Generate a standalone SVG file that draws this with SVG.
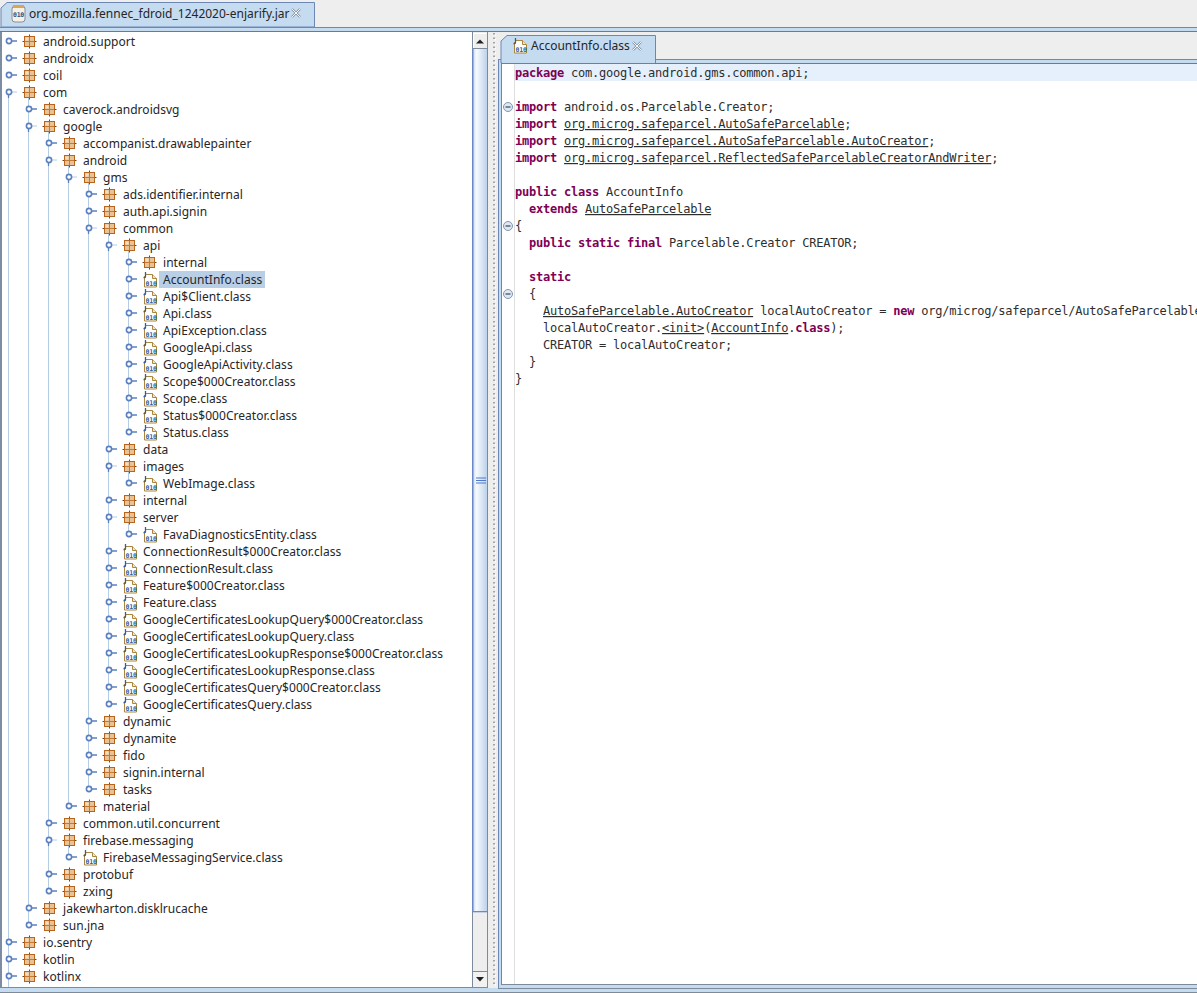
<svg xmlns="http://www.w3.org/2000/svg" width="1197" height="993" viewBox="0 0 1197 993">
<style>
text{font-family:"Noto Sans","Open Sans","Liberation Sans",sans-serif;font-size:12px;letter-spacing:.03px;fill:#262626}
.tab{font-size:12px;letter-spacing:0}
.code{font-family:"DejaVu Sans Mono","Liberation Mono",monospace;font-size:12px;letter-spacing:-.22px;fill:#2e2e2e;white-space:pre}
.k{font-weight:bold;fill:#7f0055}
.u{text-decoration:underline}
.g{stroke:#b4cde4;stroke-width:1;fill:none}
.bin{font-family:"DejaVu Sans Mono",monospace;font-size:6.500px;font-weight:bold;fill:#2f5f9f;letter-spacing:-.25px}
</style>
<defs>
<g id="pkg">
<path d="M5.500 -1.500V12.500M-1.500 5.500H12.500" stroke="#7a4114" stroke-width="1"/>
<rect x="0.500" y="0.500" width="10" height="10" fill="#e8c397" stroke="#b5651d"/>
<path d="M5.500 1V10M1 5.500H10" stroke="#c27a35" stroke-width="1"/>
<rect x="1.500" y="1.500" width="3" height="3" fill="#f3dcbf"/>
</g>
<g id="cls">
<path d="M3.500 2.500H10.500L14.500 6.500V15H2.500V4" fill="#fff" stroke="#a8863f"/>
<path d="M10.500 2.500V6.500H14.500" fill="#f1e6c8" stroke="#a8863f"/>
<path d="M3.500 0V4.500Q3.500 6 1.500 5.500" fill="none" stroke="#2f5f9f" stroke-width="1.300"/>
<text class="bin" x="3.600" y="13.500">010</text>
</g>
<g id="hc">
<path d="M10 0H17" stroke="#5b80bf" stroke-width="1.500"/>
<circle cx="9" cy="0" r="2.600" fill="#fff" stroke="#5b80bf" stroke-width="1.600"/>
</g>
<g id="he">
<path d="M9 0H17" stroke="#b4cde4"/>
<path d="M8.500 0V6" stroke="#5b80bf" stroke-width="1.300"/>
<circle cx="9" cy="0" r="2.600" fill="#fff" stroke="#5b80bf" stroke-width="1.600"/>
</g>
<g id="x">
<path d="M1 1L9 9M9 1L1 9" stroke="#8b98a8" stroke-width="2.400"/>
<path d="M1 1L9 9M9 1L1 9" stroke="#f4f6f8" stroke-width="1"/>
</g>
<g id="fold">
<circle cx="0" cy="0" r="4.500" fill="#dfe7f0" stroke="#7d97b8"/>
<path d="M-2.500 0H2.500" stroke="#36475c" stroke-width="1.200"/>
</g>
<linearGradient id="thumb" x1="0" x2="1" y1="0" y2="0">
<stop offset="0" stop-color="#c9dcf1"/><stop offset=".25" stop-color="#f7fafd"/><stop offset="1" stop-color="#bcd3ea"/>
</linearGradient>
</defs>

<g id="chrome">
<rect width="1197" height="993" fill="#eeeeee"/>
<rect x="0" y="28" width="1197" height="4" fill="#c5dbf0"/>
<rect x="0" y="27" width="1197" height="1" fill="#6d87b5"/>
<rect x="0" y="31" width="1197" height="1" fill="#6c7a8a"/>
<rect x="2" y="32" width="470" height="955" fill="#fff"/>
<rect x="0" y="32" width="2" height="956" fill="#7b8ca3"/>
<rect x="0" y="987" width="488" height="1" fill="#7d8a99"/>
<rect x="0" y="988" width="1197" height="4" fill="#c5dbf0"/>
<rect x="0" y="992" width="1197" height="1" fill="#7d8a99"/>
</g>

<g id="left-tab">
<path d="M1 27V8L7 2.500H314.500V27Z" fill="#c5dbf0" stroke="#6d87b5"/>
<rect x="12" y="6" width="13" height="16" rx="3" fill="#f6f1e2" stroke="#8a8f9c"/>
<rect x="13" y="5" width="11" height="3" fill="#d9a55b"/>
<text class="bin" x="13" y="17" style="fill:#2d4f85">010</text>
<text class="tab" x="29" y="18">org.mozilla.fennec_fdroid_1242020-enjarify.jar</text>
<use href="#x" x="291" y="8"/>
</g>

<g id="scrollbar">
<rect x="472" y="32" width="16" height="955" fill="#eeeeee"/>
<rect x="472" y="32" width="1" height="955" fill="#7d8a99"/>
<rect x="487" y="32" width="1" height="955" fill="#7d8a99"/>
<path d="M473.500 48V33.500H486.500" fill="none" stroke="#fff"/>
<path d="M476 43.500L480 39.500L484 43.500Z" fill="#222"/>
<rect x="473" y="48" width="14" height="1" fill="#7d8a99"/>
<rect x="473" y="49" width="14" height="863" fill="url(#thumb)"/>
<rect x="472" y="49" width="1.500" height="863" fill="#6d87c8"/>
<rect x="473" y="911" width="14" height="1.300" fill="#6d87c8"/>
<path d="M476 478H486M476 480.500H486M476 483H486" stroke="#4f79cc" stroke-width="1.200"/>
<rect x="473" y="971" width="14" height="1" fill="#7d8a99"/>
<rect x="473" y="972" width="14" height="15" fill="#f2f2f2"/>
<path d="M476 977H484L480 981.500Z" fill="#222"/>
</g>

<g id="splitter">
<path d="M494 33V987" stroke="#8d8d8d" stroke-width="1.500" stroke-dasharray="1.500 3"/>
<path d="M495.500 34.500V987" stroke="#ffffff" stroke-width="1" stroke-dasharray="1.500 3"/>
</g>

<g id="editor">
<rect x="498" y="59" width="699" height="930" fill="#c5dbf0"/>
<rect x="498" y="59" width="699" height="1" fill="#6d87b5"/>
<rect x="498" y="59" width="1" height="930" fill="#6d87b5"/>
<rect x="501" y="63" width="1" height="922" fill="#6d87b5"/>
<rect x="501" y="63" width="696" height="1" fill="#6c7a8a"/>
<rect x="502" y="64" width="695" height="920" fill="#fff"/>
<rect x="501" y="984" width="696" height="1" fill="#7d8a99"/>
<rect x="498" y="988" width="699" height="1" fill="#7d8a99"/>
<rect x="515" y="64" width="682" height="17" fill="#e6f0fc"/>
<rect x="514" y="64" width="1" height="920" fill="#dedede"/>
<path d="M501 59.500V41L507 35.500H655.500V63H501Z" fill="#c5dbf0" stroke="#6d87b5"/>
<rect x="502" y="59" width="153" height="4" fill="#c5dbf0"/>
<use href="#cls" x="512" y="38"/>
<text class="tab" x="531" y="50">AccountInfo.class</text>
<use href="#x" x="632" y="41"/>
<use href="#fold" x="508" y="107"/>
<use href="#fold" x="508" y="226"/>
<use href="#fold" x="508" y="294"/>
<text class="code" x="515" y="77"><tspan class="k">package</tspan> com.google.android.gms.common.api;</text>
<text class="code" x="515" y="111"><tspan class="k">import</tspan> android.os.Parcelable.Creator;</text>
<text class="code" x="515" y="128"><tspan class="k">import</tspan> <tspan class="u">org.microg.safeparcel.AutoSafeParcelable</tspan>;</text>
<text class="code" x="515" y="145"><tspan class="k">import</tspan> <tspan class="u">org.microg.safeparcel.AutoSafeParcelable.AutoCreator</tspan>;</text>
<text class="code" x="515" y="162"><tspan class="k">import</tspan> <tspan class="u">org.microg.safeparcel.ReflectedSafeParcelableCreatorAndWriter</tspan>;</text>
<text class="code" x="515" y="196"><tspan class="k">public class</tspan> AccountInfo</text>
<text class="code" x="529" y="213"><tspan class="k">extends</tspan> <tspan class="u">AutoSafeParcelable</tspan></text>
<text class="code" x="515" y="230">{</text>
<text class="code" x="529" y="247"><tspan class="k">public static final</tspan> Parcelable.Creator CREATOR;</text>
<text class="code" x="529" y="281"><tspan class="k">static</tspan></text>
<text class="code" x="529" y="298">{</text>
<text class="code" x="543" y="315"><tspan class="u">AutoSafeParcelable.AutoCreator</tspan> localAutoCreator = <tspan class="k">new</tspan> org/microg/safeparcel/AutoSafeParcelable</text>
<text class="code" x="543" y="332">localAutoCreator.<tspan class="u">&lt;init&gt;</tspan>(<tspan class="u">AccountInfo</tspan>.<tspan class="k">class</tspan>);</text>
<text class="code" x="543" y="349">CREATOR = localAutoCreator;</text>
<text class="code" x="529" y="366">}</text>
<text class="code" x="515" y="383">}</text>
</g>

<g id="connectors">
<path class="g" d="M8.500 92V987"/>
<path class="g" d="M28.500 98V925"/>
<path class="g" d="M48.500 132V891"/>
<path class="g" d="M68.500 166V806"/>
<path class="g" d="M88.500 183V789"/>
<path class="g" d="M108.500 234V704"/>
<path class="g" d="M128.500 251V432"/>
<path class="g" d="M128.500 472V483"/>
<path class="g" d="M128.500 523V534"/>
<path class="g" d="M68.500 846V857"/>
</g>

<rect id="selection" x="159" y="271" width="106" height="17" fill="#b8cfe6"/>

<g id="tree">
<g id="n0"><use href="#hc" x="0" y="41"/><use href="#pkg" x="24" y="36"/><text x="43" y="46">android.support</text></g>
<g id="n1"><use href="#hc" x="0" y="58"/><use href="#pkg" x="24" y="53"/><text x="43" y="63">androidx</text></g>
<g id="n2"><use href="#hc" x="0" y="75"/><use href="#pkg" x="24" y="70"/><text x="43" y="80">coil</text></g>
<g id="n3"><use href="#he" x="0" y="92"/><use href="#pkg" x="24" y="87"/><text x="43" y="97">com</text></g>
<g id="n4"><use href="#hc" x="20" y="109"/><use href="#pkg" x="44" y="104"/><text x="63" y="114">caverock.androidsvg</text></g>
<g id="n5"><use href="#he" x="20" y="126"/><use href="#pkg" x="44" y="121"/><text x="63" y="131">google</text></g>
<g id="n6"><use href="#hc" x="40" y="143"/><use href="#pkg" x="64" y="138"/><text x="83" y="148">accompanist.drawablepainter</text></g>
<g id="n7"><use href="#he" x="40" y="160"/><use href="#pkg" x="64" y="155"/><text x="83" y="165">android</text></g>
<g id="n8"><use href="#he" x="60" y="177"/><use href="#pkg" x="84" y="172"/><text x="103" y="182">gms</text></g>
<g id="n9"><use href="#hc" x="80" y="194"/><use href="#pkg" x="104" y="189"/><text x="123" y="199">ads.identifier.internal</text></g>
<g id="n10"><use href="#hc" x="80" y="211"/><use href="#pkg" x="104" y="206"/><text x="123" y="216">auth.api.signin</text></g>
<g id="n11"><use href="#he" x="80" y="228"/><use href="#pkg" x="104" y="223"/><text x="123" y="233">common</text></g>
<g id="n12"><use href="#he" x="100" y="245"/><use href="#pkg" x="124" y="240"/><text x="143" y="250">api</text></g>
<g id="n13"><use href="#hc" x="120" y="262"/><use href="#pkg" x="144" y="257"/><text x="163" y="267">internal</text></g>
<g id="n14"><use href="#hc" x="120" y="279"/><use href="#cls" x="142" y="272"/><text x="163" y="284">AccountInfo.class</text></g>
<g id="n15"><use href="#hc" x="120" y="296"/><use href="#cls" x="142" y="289"/><text x="163" y="301">Api$Client.class</text></g>
<g id="n16"><use href="#hc" x="120" y="313"/><use href="#cls" x="142" y="306"/><text x="163" y="318">Api.class</text></g>
<g id="n17"><use href="#hc" x="120" y="330"/><use href="#cls" x="142" y="323"/><text x="163" y="335">ApiException.class</text></g>
<g id="n18"><use href="#hc" x="120" y="347"/><use href="#cls" x="142" y="340"/><text x="163" y="352">GoogleApi.class</text></g>
<g id="n19"><use href="#hc" x="120" y="364"/><use href="#cls" x="142" y="357"/><text x="163" y="369">GoogleApiActivity.class</text></g>
<g id="n20"><use href="#hc" x="120" y="381"/><use href="#cls" x="142" y="374"/><text x="163" y="386">Scope$000Creator.class</text></g>
<g id="n21"><use href="#hc" x="120" y="398"/><use href="#cls" x="142" y="391"/><text x="163" y="403">Scope.class</text></g>
<g id="n22"><use href="#hc" x="120" y="415"/><use href="#cls" x="142" y="408"/><text x="163" y="420">Status$000Creator.class</text></g>
<g id="n23"><use href="#hc" x="120" y="432"/><use href="#cls" x="142" y="425"/><text x="163" y="437">Status.class</text></g>
<g id="n24"><use href="#hc" x="100" y="449"/><use href="#pkg" x="124" y="444"/><text x="143" y="454">data</text></g>
<g id="n25"><use href="#he" x="100" y="466"/><use href="#pkg" x="124" y="461"/><text x="143" y="471">images</text></g>
<g id="n26"><use href="#hc" x="120" y="483"/><use href="#cls" x="142" y="476"/><text x="163" y="488">WebImage.class</text></g>
<g id="n27"><use href="#hc" x="100" y="500"/><use href="#pkg" x="124" y="495"/><text x="143" y="505">internal</text></g>
<g id="n28"><use href="#he" x="100" y="517"/><use href="#pkg" x="124" y="512"/><text x="143" y="522">server</text></g>
<g id="n29"><use href="#hc" x="120" y="534"/><use href="#cls" x="142" y="527"/><text x="163" y="539">FavaDiagnosticsEntity.class</text></g>
<g id="n30"><use href="#hc" x="100" y="551"/><use href="#cls" x="122" y="544"/><text x="143" y="556">ConnectionResult$000Creator.class</text></g>
<g id="n31"><use href="#hc" x="100" y="568"/><use href="#cls" x="122" y="561"/><text x="143" y="573">ConnectionResult.class</text></g>
<g id="n32"><use href="#hc" x="100" y="585"/><use href="#cls" x="122" y="578"/><text x="143" y="590">Feature$000Creator.class</text></g>
<g id="n33"><use href="#hc" x="100" y="602"/><use href="#cls" x="122" y="595"/><text x="143" y="607">Feature.class</text></g>
<g id="n34"><use href="#hc" x="100" y="619"/><use href="#cls" x="122" y="612"/><text x="143" y="624">GoogleCertificatesLookupQuery$000Creator.class</text></g>
<g id="n35"><use href="#hc" x="100" y="636"/><use href="#cls" x="122" y="629"/><text x="143" y="641">GoogleCertificatesLookupQuery.class</text></g>
<g id="n36"><use href="#hc" x="100" y="653"/><use href="#cls" x="122" y="646"/><text x="143" y="658">GoogleCertificatesLookupResponse$000Creator.class</text></g>
<g id="n37"><use href="#hc" x="100" y="670"/><use href="#cls" x="122" y="663"/><text x="143" y="675">GoogleCertificatesLookupResponse.class</text></g>
<g id="n38"><use href="#hc" x="100" y="687"/><use href="#cls" x="122" y="680"/><text x="143" y="692">GoogleCertificatesQuery$000Creator.class</text></g>
<g id="n39"><use href="#hc" x="100" y="704"/><use href="#cls" x="122" y="697"/><text x="143" y="709">GoogleCertificatesQuery.class</text></g>
<g id="n40"><use href="#hc" x="80" y="721"/><use href="#pkg" x="104" y="716"/><text x="123" y="726">dynamic</text></g>
<g id="n41"><use href="#hc" x="80" y="738"/><use href="#pkg" x="104" y="733"/><text x="123" y="743">dynamite</text></g>
<g id="n42"><use href="#hc" x="80" y="755"/><use href="#pkg" x="104" y="750"/><text x="123" y="760">fido</text></g>
<g id="n43"><use href="#hc" x="80" y="772"/><use href="#pkg" x="104" y="767"/><text x="123" y="777">signin.internal</text></g>
<g id="n44"><use href="#hc" x="80" y="789"/><use href="#pkg" x="104" y="784"/><text x="123" y="794">tasks</text></g>
<g id="n45"><use href="#hc" x="60" y="806"/><use href="#pkg" x="84" y="801"/><text x="103" y="811">material</text></g>
<g id="n46"><use href="#hc" x="40" y="823"/><use href="#pkg" x="64" y="818"/><text x="83" y="828">common.util.concurrent</text></g>
<g id="n47"><use href="#he" x="40" y="840"/><use href="#pkg" x="64" y="835"/><text x="83" y="845">firebase.messaging</text></g>
<g id="n48"><use href="#hc" x="60" y="857"/><use href="#cls" x="82" y="850"/><text x="103" y="862">FirebaseMessagingService.class</text></g>
<g id="n49"><use href="#hc" x="40" y="874"/><use href="#pkg" x="64" y="869"/><text x="83" y="879">protobuf</text></g>
<g id="n50"><use href="#hc" x="40" y="891"/><use href="#pkg" x="64" y="886"/><text x="83" y="896">zxing</text></g>
<g id="n51"><use href="#hc" x="20" y="908"/><use href="#pkg" x="44" y="903"/><text x="63" y="913">jakewharton.disklrucache</text></g>
<g id="n52"><use href="#hc" x="20" y="925"/><use href="#pkg" x="44" y="920"/><text x="63" y="930">sun.jna</text></g>
<g id="n53"><use href="#hc" x="0" y="942"/><use href="#pkg" x="24" y="937"/><text x="43" y="947">io.sentry</text></g>
<g id="n54"><use href="#hc" x="0" y="959"/><use href="#pkg" x="24" y="954"/><text x="43" y="964">kotlin</text></g>
<g id="n55"><use href="#hc" x="0" y="976"/><use href="#pkg" x="24" y="971"/><text x="43" y="981">kotlinx</text></g>
</g>
</svg>
